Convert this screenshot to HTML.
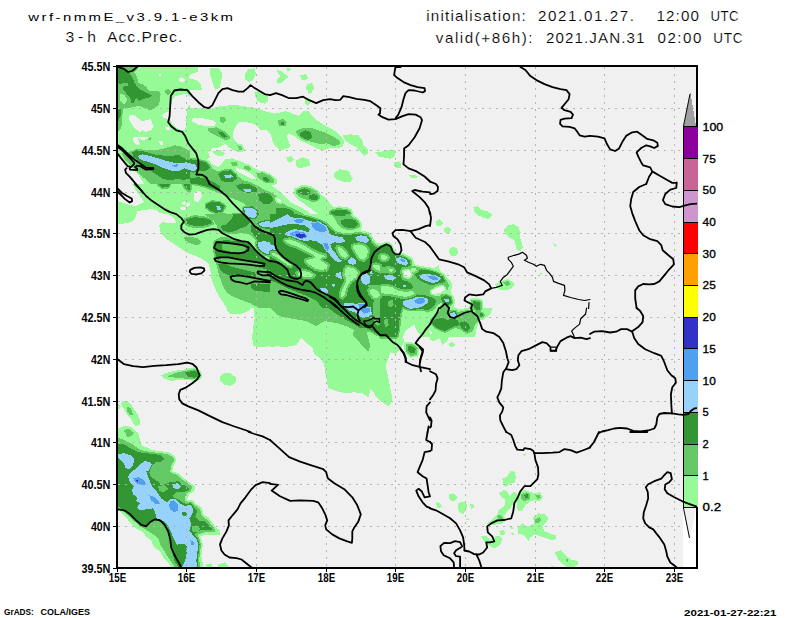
<!DOCTYPE html><html><head><meta charset="utf-8"><title>wrf-nmmE 3-h Acc.Prec.</title>
<style>html,body{margin:0;padding:0;background:#fff}svg{display:block;opacity:0.999}text{font-family:"Liberation Sans",sans-serif;fill:#000}</style></head><body>
<svg width="800" height="618" viewBox="0 0 800 618">
<rect width="800" height="618" fill="#fff"/>
<defs><clipPath id="c"><rect x="117" y="66" width="580" height="502"/></clipPath></defs>
<g clip-path="url(#c)" shape-rendering="crispEdges">
<rect x="117" y="66" width="580" height="502" fill="#f0f0f0"/>
<path fill="#96fa96" fill-rule="evenodd" d="M244.5,74.1L244.9,79.1L248.6,82.1L253,80.1L256.2,74.1L254.6,68.4L248.6,69ZM210.4,68L210.4,76.1L215.3,89.8L219.4,88.1L221.4,80.1L222.4,73L218.4,68ZM260.6,347.2L270,346.2L270,347.2L278,346.1L284.1,347.2L296.1,345.1L301.1,338.1L305.1,342.1L312.2,347.2L314.2,354.2L320.2,358.2L324.2,364.2L325.2,372.3L328.2,388.3L344.3,393.3L354.3,392.3L362.4,393.3L368.4,397.4L370.4,389.3L373.4,392.3L376.4,397.4L382.4,402.4L388.5,406.4L391.5,402.4L391.5,394.4L387.5,374.3L385.5,366.2L390.5,352.2L395.5,354.2L400.5,349.2L404.5,341.1L402.9,337L403.3,337L405,331.2L411.2,326.2L414.4,325L416.2,330L420,335L421,337L430,337L430,340.1L434,341.1L440,338.1L442.1,345.1L447.1,341.1L449.1,337L475.1,337L476.2,330L478.8,322.5L480,320L480,320.5L481.1,319.9L484,319.7L485.2,318.2L487.2,317L491.2,313L492.2,308L483.3,308L483.3,301.9L482.8,300.2L481.9,299.2L480.3,298.6L472.8,298L470.8,298.5L469.7,299.7L469.2,301.7L469.8,305.5L467.5,308.1L457.9,309.3L455.7,307.9L453.8,306.2L453.6,305.3L454.5,304.2L455.1,301.7L453.8,296.7L452.8,295.1L450.5,293.6L452.5,285L450,280L446.9,277.7L445.2,274.4L439.9,270.7L438.8,265L434.1,268.5L430.6,267.4L422.1,266.2L413.8,264.1L413.3,259.6L412.6,258L411.6,257.2L410,256.7L405,253.9L401.5,252.9L398.8,253L396.2,252.3L394.9,251L393.9,247.2L390.9,243.2L389.5,242.4L385.6,242L380.6,243.6L376.4,242.2L373.9,239.7L373.1,237.5L369.4,232.8L367.5,231.8L361.4,230.7L360.4,230.2L362.4,226.2L361.3,222.8L360,220.5L358,218.2L354.3,216.1L353.2,214.4L353.1,211.6L351.7,209.6L347.4,207.3L339,206.2L333.5,207.4L330.6,204.5L326.6,198.4L321.6,195.1L317.4,189.8L311.4,186.4L304.9,185.2L301.6,185.4L294.4,188.4L293.4,193.4L296.4,198.4L318.4,214L310.4,214L306.5,210.5L290.4,202.4L278.4,190.4L271.1,185L273.2,185.2L274.4,184.8L274.7,184.4L276.4,184.4L277.4,179.4L270,173.7L263,170.7L260.3,170.8L256.3,169.3L251.8,167.1L251.3,166.1L249.6,164.7L248.1,164.1L246.2,164.3L240.2,161.3L232.2,158.3L225.1,159.3L222.1,163.3L218.1,167.3L212.1,164.3L208.6,160.2L206.6,159L210.1,157.3L208.1,152.2L212.1,148.2L220.1,147.2L224.1,144.2L220.1,141.8L226.1,144.6L230.2,148.2L235.2,151.2L241.2,152.2L246.2,150.2L244.2,148.9L242.9,145.6L241.6,144.5L237.5,143.5L235.2,141.2L232.6,136.2L233.8,130.2L236.2,125.1L240.2,121.7L246.2,122.1L253.2,123.7L257.3,126.1L260.3,130.2L266.3,129.8L270.3,133.2L272.3,140.2L275.3,146.2L279.4,150.2L286.4,149.2L290.4,146.2L286.4,135.2L289.4,133.8L294.4,136.2L299.4,140.2L306.5,143.2L318.5,149.2L324.5,150.2L330.6,147.8L338.6,148.6L342.6,146.2L344.6,141.2L341.6,137.2L336.6,132.2L330.6,128.2L322.5,124.1L316.5,120.1L311.5,115.1L308.5,110.5L302.4,111.7L298.4,115.7L292.4,113.7L286.4,111.1L274.3,113.7L266.3,111.7L259.3,109.1L254.3,107.7L236.2,105.1L224.1,105.7L216.1,107.1L210.1,109.1L190,107.7L190,103.7L187.3,108.2L187.3,114.2L185.3,120.2L186.3,126.3L184.3,130.3L179.3,129.3L174.3,126.3L170.2,120.2L170.2,113.2L170.2,112.2L172.2,100.2L175.3,96.1L179.3,95.1L186.3,94.1L190,96.9L190,90L202.3,90L200.4,84.1L196.3,80.1L188.3,78.1L190.3,74.1L198.3,72L198.3,67L170,67L170,60L110,60L110,137L118,137L118,156.4L124.1,160.4L136.1,172.4L140.1,177.5L144.1,184L132.1,184L135.1,189L144.1,202.1L136.1,206.1L130.1,205.1L118,201.1L118,224.2L126.1,223.2L133.1,221.2L136.1,216.1L137.1,211.1L150.2,209.1L156.2,210.1L160.2,213.1L168.2,214.1L174.3,218.1L176.3,223.2L170.2,223.2L162.2,222.2L159.2,225.2L160.2,231.2L163.2,236.2L168.2,240.2L186.3,252.3L194.3,255.3L202.4,259.3L208.4,263.3L210.4,270.4L211.4,278.4L213.4,284.4L216.4,291.4L226.5,308L227.5,311L230.5,314L240.5,314L248.6,311L250.6,308L253.6,308L254.6,318L253,328.1L252.2,338.1L253.6,346.1ZM170,111.2L170,120L166.9,118.8L163.8,118.1L161.9,115L166.2,112.5ZM181.3,77.1L185.3,79.1L184.3,82.1L180.3,82.5L178.3,79.1ZM190,116.8L190,121.1L189.3,120.2ZM133.1,140.3L133.6,137L148.5,137L146.1,139.3L142.1,140.3L138.1,138.3L140.1,144.3L136.1,145.3ZM160.2,145.3L159.2,141.3L162.2,140.3L163.2,144.3ZM190,202.2L190,206.1L186.3,207.1L186.3,204.1ZM183.3,205.1L181.3,202.1L185.3,201.1L186.3,204.1ZM180.3,207.1L184.3,206.5L186.3,209.1L183.3,210.5L180.7,209.7ZM193,118.1L202.1,118.1L212.1,120.1L216.5,123.1L214.1,126.5L206.1,126.1L198,124.5L191.6,121.1ZM236.2,170.3L236.2,167.3L244.2,170.3L252.2,174.3L256.3,179.4L250.2,178.3L242.2,174.3ZM202.1,196.4L198,202.4L194,200.4L194,192.4L200,190.4ZM276.4,198.4L280.4,199.4L281.4,202.4L277.4,201.4ZM159,76L159,74L161,74L161,76ZM140,131.9L136.9,130L133.8,127.5L130.6,122.5L128.8,118.1L130,115L135,115.6L138.8,118.8L142.5,121.2L147.5,120L150.6,118.8L151.9,122.5L153.8,126.2L151.2,130L146.2,131.9L142.5,130ZM166.9,130.6L165,127.5L168.8,126.2L170,130ZM411.2,273.8L409.4,277.5L405,276.9L403.8,271.2L408.8,270ZM441.2,292.5L435,294L431.9,293.5L431.2,291.2L436.2,288.1L442.5,286.2L445,289.4ZM429.4,331.2L431.2,330.6L431.9,333.8L430,334.4ZM405.3,342.4L404.1,343L403.8,344.4L404.2,350.2L405.3,353.5L409.4,357.1L410.7,357.6L416.8,357L417.8,356.5L418.4,355.4L419.4,348.4L418.9,346.9L414.7,343L408.8,341.9ZM415.6,343.1L417.1,341.3L414.8,343ZM215.4,90L215.3,89.8L214.7,90ZM291.1,70L290.1,67.6L286.1,68L288.1,71.7ZM281,83.1L284.1,80.1L288.1,77.1L285.1,74.1L281,71L277,70L278,73L280,76.1L277,79.1L277.6,83.7ZM300.1,75.1L301.1,79.1L305.1,80.5L308.1,78.1L306.1,74.1ZM312.5,90L313.6,90L314.2,87.1L312.2,83.1L307.1,84.1L306.1,87.1L306.1,90L307.5,90L308.5,93.6L311.5,93ZM350.3,134.3L342.6,135.2L345.6,141.2L350,144.2L356.4,147.3L360.4,152.4L364.4,156L368,153.4L367.4,148.3L363.4,145.3L362.4,140.3L358.4,135.3ZM390.5,158.8L394.5,156.4L395.5,150.4L390.5,149.4L382.4,151.4L374.4,152.4L378.4,156.4ZM398.5,161.4L394.5,162.4L394.1,165.4L396.5,168.4L400.5,168.4L401.5,164.4ZM333.6,176.3L336.6,179.4L342.6,181.4L350,182.5L350.3,182.5L352.7,178.5L350,174.3L350,172.3L346.6,170.3L339.6,169.3L334.6,172.3ZM408.6,175.5L410.6,177.5L415.6,178.5L418.2,176.5L414.6,174.5ZM443.1,222.2L440,219.1L436,221.2L436,224.2L438,226.2L442.1,225.2ZM451.1,229.2L448.1,226.6L444.1,228.2L444.1,231.2L446.1,233.2L450.1,232.6ZM449.1,249.3L449.1,252.3L451.1,255.9L455.1,256.3L458.5,253.3L457.1,248.3L453.1,246.7ZM477.2,206.1L473.2,207.1L474.2,211.1L477.2,215.1L487.2,219.1L491.2,217.7L491.9,214.1L487.2,211.1L481.2,210.1ZM508.3,225.2L504.3,229.2L504.3,232.2L506.3,235.2L510.3,238.2L514.3,240.2L516.8,250.3L520.4,251.3L522.8,247.2L521.4,241.2L519.4,237.2L520.8,232.2L518.4,227.2L513.3,224.2ZM552.9,243.2L554.5,246.2L556.9,246.7L555.5,243.8ZM542.5,273L539.4,273.4L542,274.8ZM500.3,290.4L506.3,290.4L511.3,288.4L514.7,284.4L512.3,281.4L510.2,280.7L509,279.3L506.3,279.4L500.3,281.4L495.3,284.4L496.3,287.4ZM182.7,380.2L190.2,380.3L194.1,381.1L199.9,379.4L201.2,378.4L202,376.4L201.4,372.1L200.2,370.5L196.1,367.9L193.8,367.4L184.7,369L183.6,369.6L178.3,370.2L168.2,372.3L161.2,375.3L163.2,378.3L170.2,380.7ZM224.5,384.7L230.5,386.3L235.5,382.3L235.5,377.3L230.5,373.3L224.5,372.7L220.4,376.3L220,380.7ZM119,409.4L121,406.4L118,403.4L118,408.4ZM140.1,420.4L137.1,413.4L133.1,407.4L128.1,401.4L122,400.8L121,404.4L125.3,410.7L125.6,412.5L128.6,416.5L130.1,417.4L135.1,426.5L140.1,424.5ZM174,569L179.9,572.1L181.5,572.6L197.2,572.6L200.1,571.4L201.3,569.9L201.9,568L203.2,568L202.4,560.5L201.4,556.5L202.9,543.8L200.4,536.4L206.4,534.4L214.4,535.4L220.4,534.8L220.4,530.4L216.4,528.4L212.4,522.4L208.4,517.3L203.4,514.3L202.4,509.3L198.3,505.3L195.4,503.8L194.1,501.7L192.3,500.2L190.6,499.8L188.2,500.2L186.7,499.5L189.3,494.2L194.3,491.2L195.3,486.2L184.4,478.7L178.3,473.2L172.3,471.1L173.2,466.1L176.3,461.1L175,456.7L174.1,455.5L168.2,452.1L152.2,450.1L146.1,447.1L142.1,446.1L140.1,440L138.1,432L136,432L135.2,430.6L134.6,430.4L132.1,427.5L126.1,425.5L118,428.5L118,436.4L117,436.6L116.2,438L116.2,441.4L115.3,442.3L114.7,444.1L114.7,451L113.5,453.3L113.4,458.1L114.7,461.2L114.9,507.1L116.1,508.9L121.4,512.7L124.1,515.3L130.1,522.4L136.1,528.4L142.1,531.4L146.1,536.4L151.2,540.4L153.2,545.5L156.2,548.5L161.2,552.5L162.2,556.1L168.2,562.5L171.6,568L173.3,568ZM449.1,343.1L449.1,346.1L452.1,347.2L455.1,345.1L453.1,342.1ZM218.4,567.9L227.5,567.9L228.5,565.3L224.5,562.3L218.4,564.3ZM206.4,564.3L206.4,567.9L212,567.9L211.4,563.3ZM453.1,493.2L449.1,494.2L449.1,498.3L452.1,501.3L456.1,500.3L457.1,496.3ZM442.1,507.3L440,503.3L436,501.3L437,507.9ZM474.2,507.3L473.2,503.3L470.2,504.3L471.2,508.7ZM466.1,510.3L467.1,504.3L463.1,501.3L458.1,503.3L457.7,507.3L459.1,512.3L463.1,514.3ZM465.1,518.8L468.1,520.8L469.2,518.4ZM505.3,532.4L503.3,529.4L499.3,531.4L500.3,535.4L503.3,535.4ZM502.3,539.4L499.3,535.4L495.3,536.4L493.2,541.4L485.2,535.4L481.2,536.4L484.2,541.4L493.2,548.5L496.3,547.5L500.3,544.5ZM526.4,454.1L522.4,453.7L524.4,455.7ZM502.3,479.2L503.3,483.2L505.3,487.2L509.3,484.2L514.3,482.2L516.4,477.2L514.3,471.2L510.3,471.2L507.3,476.2ZM522.4,510.3L525.4,505.3L530.4,501.3L535.4,500.3L536,500.3L536.8,501L538.1,500.9L540.4,500.3L541.5,499.5L542.5,498.5L542.4,497L542.9,496.3L540.3,493.1L539.4,492.2L534.4,493.2L529.7,492L527.5,490.8L524.4,490.2L518.4,492.2L516.4,506.3L518.4,511.3ZM513.3,492.2L509.3,496.3L507.3,491.2L503.3,490.2L499.3,493.2L501.3,497.3L505.3,499.3L504.3,506.3L499.3,509.3L497.4,514.1L496.3,514.8L495.6,516L492.2,519.4L487.2,523.4L490.2,525.4L502.3,523.4L506.3,520.4L503.7,515.9L507.3,511.3L510.3,508.3L516.4,498.3L517.4,493.2ZM544.5,531.4L542.5,526.4L546.5,522.4L548.5,518.4L544.5,514.3L538.4,513.3L533.4,517.3L533.6,522.4L534.1,523.5L530.4,525.4L526.4,526.4L522.4,523.4L518.4,526.4L517.4,533.4L521.4,534.4L525.4,536.4L528.4,541.4L530.4,537.4L534.4,534.4L552.5,540.4L556.5,538.4L555.5,535.4ZM512.9,529.4L512.3,526L509.3,526.4L510.3,528.4ZM511.3,533.4L513.3,535.4L513.9,533.4ZM566.5,566.7L574.6,566.7L578.2,564.3L577.6,561.3L570.6,559.3L570.1,558.4L568.3,557.4L564.5,554.2L560.5,550.2L554.5,552.2L557.5,558.3L561.5,563.3ZM550.5,567.9L554.1,567.9L554.5,565.9L550.5,566.7ZM267.3,95L260.3,91L254.3,92L255.3,97L258.3,102L264.3,103.7L268.3,101ZM222.1,156.3L225.1,153.2L220.1,150.2L212.1,151.2L216.1,155.3ZM294,159.3L291.4,156.3L286.4,157.3L287.4,161.3L291.4,162.3ZM310.5,103L308.5,98L304.5,99L304.9,103L307.5,106.1ZM308.5,159.3L302.4,157.3L296.4,160.3L295.4,165.3L298.4,168.3L304.5,167.3L310.5,165.3Z"/>
<path fill="#64c864" fill-rule="evenodd" d="M165,90L165,92.5L166.9,94.8L170,94.4L170,93.1L171.2,92.1L170,90.1L168.8,89ZM151.2,139.3L150.6,137L150.1,137L149.6,138.1L148,139.7L148.2,140.3ZM124.1,158.4L150.1,184L156.2,184L158.2,186.4L161.2,188.7L162.4,189.1L168.4,188.5L170.2,187L171.7,184L182.3,184L182.7,187.6L187.3,191.6L190,192.1L190,191.7L191,191.4L191.5,190.3L191.5,185.1L197.8,185.9L204.8,187.6L210.1,190L220.1,193.4L240.2,201.4L246.5,205.4L243.3,205.9L241.7,207.4L241.5,209L242.1,212.5L233,212.5L231.8,213.1L231.6,214L225.9,214L225.5,212.8L223.1,212.5L226.4,207.2L226.6,206.2L226.1,205.3L220.3,201L211.4,200.1L205.4,203.1L204.7,203.8L204.6,204.7L205,207.7L205.5,208.6L209.5,211.9L214.8,214L204.6,214L206.4,216.1L210.2,218.3L204.4,216.1L194.3,215.1L184.3,218.1L184.3,224.2L189.3,227.2L198.3,228.2L207.4,227.2L214.4,224.2L212.6,219.7L213.4,220.1L216.4,225.2L218.4,230.2L224.5,233.2L232.5,234.2L240.5,233.2L248.6,234.2L253.9,237.8L255.8,240.2L254.9,241.7L254.8,245.2L256.2,248.8L248.8,241.8L236.2,239.5L230.5,237.8L222.4,236.6L214.4,240.2L212.8,244.2L212.9,248.6L213.4,252.3L219.4,276.4L222.4,284.4L226.5,292.4L232.5,296.4L250.6,303.5L258.4,308L270,308L276,314L282.1,317L306.1,321.1L316.2,326.1L324.2,321.1L336.3,323.1L346.3,326.1L354.3,330.1L352.3,335.1L358.4,341.1L364.4,348.2L368.4,351.2L370.4,346.1L368.4,338.1L366.4,332.1L369.8,331.5L375.6,335.3L378.5,336.4L378.9,338.1L380,338.5L397,338.5L397.9,338.2L398.5,337.4L400.2,330.4L400.9,321.4L402.1,312.8L403.3,309.1L409.3,311.5L422.4,310.9L423.8,311L427.5,312.5L433.8,310L437.5,305L441.7,302.9L442.6,304.1L444.1,304.9L435,316.2L430,318.8L430.5,321.2L429.8,322.3L431.2,325L434.3,328.2L439.3,330.7L444.5,332.7L445.7,332.6L455.5,327.7L461.2,330L462.5,331.4L467.5,333.8L472.5,331.2L475,325L477.1,322.4L478.6,319.3L480,318.5L480,317.8L481.6,318.2L483.2,318L485.3,315L485.2,314L480.6,311.2L481.5,310L481.5,301.9L481.1,300.9L480.1,300.4L472.6,299.8L471.4,300.2L471,301.5L471.8,306.3L473.7,310.1L475.6,311L472.5,312.5L467.5,310L457.6,312L456.4,310.3L455,309.5L450.2,310.4L449.4,310L448.3,306.4L449.7,306.2L452.8,303.7L453.3,302.1L452.1,297.1L451.4,296.2L447,293.7L445.6,293.7L444.4,294.2L442.5,293.8L438.8,296.2L431.6,295.1L430.3,293.9L429.7,291.7L429.8,290.7L430.4,289.9L435,286.9L442,284.7L443,284.7L443.8,285.3L447.5,290L449.4,285L443.3,275L438,271.7L430.5,269.2L421.7,267.9L412.5,265.6L412.1,265L411.5,259.8L411,258.9L409.2,258.5L407,256.9L401.8,254.8L400.5,254.5L398.7,254.8L395.3,253.9L393.2,251.9L392.5,248.3L389.5,244.2L384.8,243.9L378.4,246.2L373,242L372.1,240.9L372.1,239.9L371.6,238.5L368.6,234.5L366.9,233.4L358,231.7L349.1,233.5L339.4,232.3L335.1,230.9L327.6,223.2L320.1,218.9L317.3,218.4L312.5,216.7L301.8,214L304.3,214L286.4,205.5L282.8,203.1L282.1,203.9L281,204L277,203L275.8,202L274.8,198.9L274.9,197.8L275.6,197L277,197L276.4,196L270.3,192L264.3,190L258.3,186L250.2,182L242.2,180L237.8,175.9L236.5,173.3L235.1,172.3L233.8,170.7L230.9,169L230,168.8L221.9,169.8L219.9,171.1L216.1,170.7L211.3,168L211.6,167.4L211.3,166.4L207.2,161.4L206.4,160.8L198.2,158.8L190,157.8L190,149.8L186.3,149.4L180.3,146.3L174.3,145.3L168.2,147.3L160.2,149.4L150.2,150.4L136.3,148.9L130.1,151.4L122,153.4ZM268.5,256.8L268.5,259.3L264.1,256L268.2,256.8ZM387,259.4L382.9,260L380.5,258.2L380.5,255.8L384.1,254.6L387.9,257.1ZM375.6,269.5L373.3,267.3L372.9,265.7L376.4,264.5L380,265.7L380,271ZM374,288.7L378.7,291.8L380,295.9L377.7,298.2L373.5,297.5L370.3,293.4L369.1,289.9ZM352.8,245.8L358.4,244.4L365.1,246.1L368.1,250.7L366.5,257.2L363.8,259.9L359.7,258.5L353.3,248.5ZM346.6,287.3L344.4,295.4L342.3,297.5L340.6,295.8L342.3,289.2L346.2,281.3L346.3,279.7L344.4,274.2L345.3,269.2L347.2,266.7L353.3,268.2L358,272.9L356.6,277L350.6,281.2ZM339.2,252.3L337.5,248.1L337.8,246.9L341.3,248.1L345.6,251.6L347.8,255.9L345.7,257.9L341.7,256.6ZM311.2,250.1L319.3,254.1L325.2,255.7L324.7,256.6L321.7,257.6L320.5,258.7L320.4,260.4L321.6,261.5L323.2,262.2L327.7,265.2L326.6,268.7L322.1,270.2L315,268.4L309.5,264.7L306.2,261.4L306.2,260L313.2,258.6L314.5,257.7L314.8,256L313.7,254.7L299.1,247.4L290.9,244.3L285.7,241.7L285,240L289.8,239.4L297.3,242.1L305.1,246.1ZM302.4,270.6L309.3,272.3L313.5,275.1L312.8,276.4L306.3,277.2L299.3,275.5L297.4,273.1ZM272.1,255L272.1,252.7L275.2,253.3L280.8,257L286.7,261.9L291.4,265L291,265.8L287,264.4L275.2,256.6ZM415.8,267.5L416.8,270.4L413.7,273L412.2,272.3L412.7,274.5L410.1,278.9L409.2,279.1L403.9,278.1L402.2,271.6L402.4,270.4L403.4,269.7L409.3,268.5L411.6,271.4L410.8,268ZM392.6,294.4L385.1,293.8L380.6,292.7L380.6,286.7L385,285.6L392.3,287.4L398.6,290.6L405.1,291.8L412.3,291.2L415.2,293.6L411.1,295.7L405,296.9ZM393,269.2L392.1,271.8L389.2,271.4L388.3,268.3ZM336.3,222.2L339.3,226.2L344.3,229.2L350.3,230.2L356.4,229.2L360.4,226.2L359.6,223.3L358.4,221.2L356.5,219.2L354.1,218.3L352.3,217.1L351.1,215L351.5,214L351.5,212.5L350.8,211.2L346.8,209L338.2,208L330.2,210L329.4,210.6L329.1,214L329.5,215.1L331.8,215.5L332.8,216.6L334.3,217.1ZM503.3,282.4L506.3,286.4L510.3,284.4L508.3,281ZM167.2,376.3L176.3,377.9L186.3,378.7L190.4,378.5L194,379.3L199.3,377.7L200,377L200.2,376.1L199.8,373.1L199.2,372L195.2,369.4L194.1,369.2L176.3,372.7ZM133.1,414.4L131.1,408.4L127.1,406.4L127.1,411.4L130.1,415.4ZM132.1,436L134.1,432L132.5,432L132.1,430.9L128.1,428.5L124.1,430.5L124.1,432L125.1,432L127.1,437ZM416.6,355.2L417.6,348.2L414.1,344.7L409.5,343.6L405.5,344.1L406.6,352.2L410.6,355.8ZM204.4,532.4L210.4,532.4L215.4,531.4L214.4,528.4L210.4,523.4L206.4,519.4L201.4,515.3L200.4,510.3L196.3,506.3L194.1,505.2L192.7,502.9L191.7,501.9L189.8,501.6L188.1,502.2L184.3,500.3L186.3,493.2L189.8,491.7L190.7,490.9L192.3,487.2L189.3,484.2L183.3,480.2L177.3,475.2L170.2,472.2L171.2,465.1L174.3,461.1L173.2,457.1L167.2,454.1L145.1,451.1L139.1,449.1L132.1,444.1L124.1,440L118,438L118,442.6L117,443L116.5,444.1L116.5,451.8L115.6,452.7L115.2,454.1L115.2,458.1L116.5,460.5L116.5,506.3L117.1,507.5L121.2,510.5L126.1,513.3L133.1,520.4L140.1,526.4L147.2,530.4L153.2,534.4L158.2,538.4L160.2,544.5L170.2,560.5L175.5,568L176.9,568L177.3,568.8L178.6,569.5L179.5,569.5L181.3,570.7L197.2,570.8L198.8,570.2L199.6,569.3L200.2,568L199.2,559.8L201.1,544.5L199,537.5L197.9,536L198.3,534.4ZM529.4,499.3L530.2,497.9L530.4,495.2L528,492.9L527.2,492.8L526.4,492.2L521.4,494.2L521.4,499.3L524.4,501.3ZM539.4,494.6L535.4,495.2L537.4,499.3L540.8,497.9ZM500.3,514.3L497.3,516.3L498.3,519.4L503.3,518.4ZM535.4,519.4L535.4,522.4L538.4,523.4L541.5,520.4L539.4,517.3ZM568.5,559.3L564.9,558.7L567.5,561.9ZM198.3,238.6L191.3,236.6L184.3,237.2L184.7,239.8L187.3,242.2L192.3,244.2L198.3,245.2L201.4,242.2ZM223.1,123.1L226.1,120.1L224.1,116.5L220.1,117.1L219.7,121.1ZM278.4,120.1L277.9,123.7L280.4,126.5L285.4,126.1L286.8,122.1L283.4,119.1ZM219.1,137.2L225.1,139.8L230.2,139.2L229.2,135.2L223.1,130.2L216.1,127.2L214,128.1L208.1,128.2L208.1,131.2ZM310.5,127.8L302.4,128.2L295.4,131.2L297.4,135.2L299,136.1L299.5,137L302.9,139.6L307.9,141.6L309.2,141.4L320.5,144.2L326.6,143.2L332.6,145.8L339,145.2L340.2,141.2L334.6,137.2L326.6,133.2L318.5,130.2ZM239.2,149.8L242.6,149.8L241.2,146.2L237.2,145.2ZM235.1,166.3L238.2,164.7L236.2,161.9L231.2,162.3L231.8,165.3ZM251.2,169.3L250.1,167.5L248.2,165.9L243.8,166.3L244.3,168.7L248.9,170.9ZM257.3,176.8L262.6,181.3L266.6,183.3L268.7,182.9L273.3,183.4L274.3,179.4L269.3,175.3L262.3,172.3L256.3,173.3ZM300.4,197.4L311.5,201.5L316.5,201.5L318.5,200.4L320.1,197.7L320.4,196.6L316.5,191.4L310.5,188L304.9,187L302.4,187L298,189L296,190.4L296.4,194.4ZM122,116L122.7,113.5L122.5,109.4L125,108.1L131.2,107.5L140,105.6L143.8,108.1L151.2,110.6L153.8,108.1L158.1,105.6L160,101.2L160.6,93.8L158.8,90.6L153.8,91.2L148.8,90.6L146.2,86.9L142.5,84.4L138.1,82.5L136.9,76.2L134.4,72.5L136.9,70L135,66.9L125.3,66.9L123.9,66L115.1,65.4L114,65.8L113.5,66.9L113.5,82.5L113.9,83.6L115,84L115,107.3L114,107.6L113.5,108.8L113.5,122.5L113.9,123.6L115,124L115,131.2L117.8,131.2L120,130L121.9,125L122.5,120ZM123.8,104L121.1,102.1L119.6,98L119.9,94.7L121.9,93.5L124.6,95.4L126.9,98.9L126.3,102.7Z"/>
<path fill="#329632" fill-rule="evenodd" d="M144.1,166.4L162.2,178.5L170.2,180.5L178.3,178.5L184.3,180.5L190,178.6L190,183.4L198,184.4L206.1,186.4L214.1,189.4L220.1,190.4L220.1,186.4L214.1,182.4L206.1,178.3L198,177.3L190,178.3L190,171.7L193.7,172.6L194.9,172.2L196.7,170.4L202.1,171.3L207.1,170.3L210.1,167.3L206.1,162.3L198,160.3L190,159.3L190,160.3L184.3,158.4L178.3,154.4L170.2,156.4L154.2,154.4L144.1,151.4L136.1,150.4L132.1,152.4L133.1,156.4L138.1,160.4ZM354.3,324.1L360.4,328.1L366.4,328.1L370.4,330.1L376.4,334.1L380,335.3L380,337L397,337L398.8,330L399.4,321.2L400.6,312.5L402.5,306.9L403.5,307.1L404.5,308.1L410.1,310L417.8,309.4L422.5,309.4L428.8,310L433.8,306.2L436.2,301.2L432.5,297.5L426.2,295.6L417.5,294.4L416.1,295.6L412,297.6L405.4,299L401.9,298.5L401.2,298.8L392.3,296.6L384.4,295.9L382.1,296.1L381.6,297.5L379.9,299.1L380,324.4L377.5,326.2L373.8,321.2L372.5,310L373.8,300L374.4,299.9L373.2,299.7L371.8,298.9L368.2,294.1L367,290.6L367.2,288.8L368.7,287.7L367.5,285L379.4,285L384.5,283.5L385.5,283.5L392.8,285.3L397.8,287.8L401.2,288.9L405.1,289.6L411.1,289.1L413.1,287.5L411.2,283.8L407.7,281.1L403.8,280.5L402,279.2L401.3,277.7L400,271.2L400.2,270L401.1,268.6L402.5,267.5L409,266.3L410.6,265L410,260L408.3,260L407.6,258.9L406.4,258.2L401.1,256.1L398.7,256.3L394.5,255.3L391.5,252.3L389.5,246.2L385.5,245.2L379.4,248.3L374.4,246.2L370.3,241.1L370.7,240.3L370.4,239.4L367.4,235.4L366.6,234.9L360.3,233.9L358.4,233.2L348.3,235.2L340.3,234.2L334.3,232.2L327.6,225.8L326.7,224.4L319.3,220.2L317.1,220L312.2,218.1L295.8,214L294.4,214L292.4,210.5L284.4,207.5L276.4,208.5L276.4,214L270,214L270,219.8L266.3,219.9L258.3,221.9L257.4,222.7L257.5,223.9L259.5,226.9L260.3,227.4L264.6,228.5L268.8,228.5L269.2,229.2L270,229.4L270,233.2L264.6,231.2L258.6,227.2L250.6,224.2L250.6,230.2L254.6,236.2L258.3,240.8L256.6,241.4L256.3,245.2L258.8,250.3L263.8,254.3L268.5,255.3L269.5,255L269.9,252.7L270.7,251.1L272.5,250.6L276.5,251.4L282,255.1L288.1,260.2L292.6,263.2L293.5,264.5L293.4,266L291.9,267.8L290.3,267.9L285.8,266.3L274,258.4L271.1,257L270,255.2L270,262.3L260.6,255.3L248.6,243.2L238.5,241.2L226.5,240.2L216.4,241.2L215,243.8L214.4,248.3L215.4,253.3L217.4,259.3L220.9,260.7L218.4,258.7L228.5,257.9L254.6,262.7L262.6,264.7L258.6,265.9L246.6,264.3L270,270.3L270,280.4L278,283.4L288.1,288.4L308.1,296.4L316.2,300.5L322.1,308L328.2,308L336.3,314L346.3,320.1ZM230.5,243.2L240.5,244.6L246.6,247.2L244.5,251.3L236.5,252.3L228.5,251.3L222.4,249.3L222.4,244.2ZM391.7,274L383.8,272.5L380,273.8L380,273L379.3,273.1L374.9,271.6L371.7,268.8L371.2,267.8L370.8,266.2L371,264.6L372.2,263.6L375.7,262.4L377.1,262.4L380.7,263.6L381.8,264.4L382.2,267.1L388.8,266.1L393.4,267L394.9,268.1L395.1,269.9L394.7,271.1L395,272.5L394,272.8L393.2,273.7ZM392.5,300L393.8,305L390,307.5L387.5,305.6L387.5,301.2ZM383.8,320L387.5,318.8L388.8,325L385,327.5ZM387.3,261.6L382.9,262.2L381.6,261.8L379.2,260L378.3,258.2L378.3,255.8L378.7,254.5L379.8,253.7L383.5,252.5L385.4,252.8L389.1,255.3L390,256.4L389.9,257.9L389,260.2ZM351.2,248.9L350.6,246.2L350.9,244.6L352.2,243.7L358.9,242.3L365.6,243.9L366.9,244.9L370,249.4L370.3,251.2L368.6,257.8L365.4,261.5L363.1,262L359,260.6L357.9,259.8ZM352.3,282.6L348.5,288.3L346.5,295.9L346,296.9L343.8,299.1L342.3,299.7L340.7,299.1L339,297.4L338.5,295.3L340.3,288.2L344,280.7L342.3,273.8L343.1,268.8L345.4,265.4L347.7,264.6L353.8,266.1L354.8,266.7L359.5,271.4L360,273.6L358.7,277.7L357.8,278.9ZM339.8,257.7L337.3,253.5L335.4,248.9L335.6,246.4L336.7,245L338.5,244.9L342.6,246.4L347,249.9L349.7,254.9L349.9,256.2L349.3,257.4L347.3,259.5L345,260L341,258.6ZM312.2,248.1L320.1,252.1L325.7,253.5L327.2,254.8L327.1,256.7L326.7,257.6L325.4,258.7L322.8,259.6L329,263.3L329.8,264.5L329.8,265.9L328.7,269.4L327.3,270.8L322.8,272.3L321.6,272.3L314.5,270.5L308.3,266.5L304.7,263L304,261.4L304.5,258.6L305.8,257.9L312.3,256.5L298.1,249.4L290.1,246.4L284.7,243.7L283.7,242.5L283,240.8L283.1,238.8L284.7,237.8L290.6,237.3L298.3,240.2L306.1,244.1ZM296.4,271.1L301.4,268.6L302.9,268.4L309.8,270.2L314.7,273.3L315.6,274.5L315.4,276.1L314.8,277.4L313.1,278.6L306.5,279.4L298.8,277.6L297.6,276.9L295.6,274.4L295.2,272.6ZM338.6,209.5L330.6,211.5L330.6,214L332.9,214L333.2,215.1L338.3,216.5L344.3,216.1L346.4,214L350,214L350,212.5L346.6,210.5ZM348.3,228.2L354.3,227.8L358.4,224.2L355.3,220.1L348.3,218.5L341.3,220.1L340.7,223.2L343.3,226.2ZM194.3,377.9L198.8,376.3L198.3,373.3L194.3,370.6L185.3,372.3L187.3,376.3ZM410.6,353.2L414.6,353.2L415.6,349.2L413.1,346.7L409.1,345.8L407.6,346.1L407.6,350.2ZM480,316.3L481.6,316.7L483.8,315L480,312.5ZM186.6,504.4L172.2,496.3L176.3,492.2L183.3,492.2L189.3,490.2L188.3,487.2L182.3,484.2L178.3,481.2L170.2,482.2L162.2,485.2L157.2,481.2L151.2,477.2L149.2,472.2L150.1,471.2L150.4,470.6L150.2,470.1L153.2,464.1L154.4,463.9L155.2,462.1L160.2,462.1L164.2,459.1L161.2,455.1L138.1,452.1L123,444.1L118,444.1L118,452.8L117,453.3L116.7,454.1L116.7,458.1L118,459.7L118,506.3L122,509.3L128.1,512.3L134.1,518.4L140.1,523.4L146.1,526.4L150.2,522.4L155.2,520L161.2,522.4L166.2,528.4L169.2,536.4L171.2,547.5L174.3,560.5L178.6,568L180.6,568L181,569L181.8,569.3L197.2,569.3L198.2,568.9L198.5,567.9L197.7,560.5L199.6,544.7L197.6,538L195.1,535.3L195.3,533.4L200.4,530L206.4,530.4L212.4,529.4L209.4,525.4L204.4,521.4L198.3,520.4L195.3,516.3L197.3,511.3L194.1,508.1L191.4,503.6L190.7,503.1L189.8,503.1ZM168.2,489.2L164.2,492.2L159.2,491.2L158.2,486.2L164.2,485.2ZM200.4,529.4L196.3,532.4L192.3,531.4L192.3,526.4L198.3,525.4ZM525.4,498.3L528.8,497.3L527.4,494.2L524.4,495.2ZM168.2,187L170.2,184L158.2,184L162.2,187.6ZM190,190.3L190,184L184.3,184L184.7,187L188.3,190ZM218.1,214L224.5,214.1L224.5,214ZM210.4,220.1L204.4,218.1L194.3,217.1L186.3,219.1L186.3,223.2L190.3,225.2L198.3,226.2L206.4,225.2L212.4,223.2ZM233.5,216.1L230.5,220.1L226.5,224.2L220.4,226.2L222.4,230.2L228.5,232.2L234.5,231.2L240.5,228.2L246.6,226.2L250.6,221.2L248.4,218.4L254.4,219.4L255.6,218.9L258.6,214.9L258.7,213.5L258.1,213L258.5,211.1L253.1,206.5L252.1,206.2L244.1,207.2L243.2,207.7L242.9,208.7L244.1,214.5L243.4,214L233,214ZM222.4,272.4L228.5,275.4L234.5,274.4L242.5,275.4L250.6,277.4L256.6,276.4L254.6,272.4L230.5,266.3L224.5,263.3L218.4,264.3L219.4,268.3ZM254.6,290.4L270,292.4L270,284.4L258.6,283.4L250.6,284.4L250.6,287.4ZM224.1,137.8L227.2,136.2L223.1,132.6L218.1,131.2L220.1,135.2ZM248.6,167.9L247.3,167.6L248.8,168.3ZM235.7,174.5L234.1,173.5L233,172L230.2,170.3L222.1,171.3L218.1,174.3L221.1,180.4L227.2,182.4L233.2,181.4L237.2,178.3ZM256.3,187.4L250.2,184.4L242.2,183.4L236.2,185.4L238.2,189.4L242.3,190.8L245.5,193.1L246.3,193.3L252.4,192.7L253.3,192.1L257.3,191.4ZM264.3,192.4L258.3,194.4L259.3,200.4L264.3,204.5L270.3,203.4L272.9,200L272.7,198.3L270.3,194.4ZM225.1,206.5L220.1,202.4L212.1,201.4L206.1,204.5L206.5,207.5L210.1,210.5L216.1,212.9L222.1,211.5ZM281.4,124.9L284.4,124.5L284,121.7L280.8,121.7ZM305.5,130.2L300,133.2L300.4,135.8L303.4,138.2L308.5,140.2L312.1,137.2L310.5,132.2ZM270.3,180.4L267.3,177.3L262.3,176.8L263.3,180L267.3,182ZM304.5,188.4L298.4,190.4L298.4,192.8L301.4,194.4L306.5,195.4L310.5,193.4L309.5,190ZM308.5,198L311.5,200L316.5,200L318.9,196.8L314.5,194L308.5,195.4ZM127.5,85.6L123.8,86.2L123.1,89.4L130.6,98.8L131.2,103.1L133.8,102.5L136.2,97.5L139.4,101.2L142.5,98.8L147.5,98.1L152.5,95.6L141.2,90L136.9,86.9L133.8,81.2L131.9,76.2L128.8,72.5L123.8,67.5L115,66.9L115,82.5L117.8,82.5L120,84.4L122.5,83.1L126.2,82.5L128.8,83.8ZM115,122.5L117.8,122.5L119.4,118.8L121.2,113.8L120.6,109.4L115,108.8ZM445,281.2L442.5,276.2L437.5,273.1L430,270.6L421.2,269.4L418.9,270.1L418.9,271L418.2,272.1L415,274.7L417.5,278.8L422.5,281.9L428.8,284.4L433.5,285.3L435.2,284.5L441.4,282.6L443.3,282.6ZM441.2,297.5L441.2,300L443.8,303.1L448.8,305L451.9,302.5L450.6,297.5L446.2,295ZM475,309.4L480,310L480,301.9L472.5,301.2L473.1,305.6ZM457.5,320L453.3,318.9L455.1,318.8L456.2,318.1L457.4,315.6L457.3,314.3L455.5,311.5L454.1,311L450.3,311.9L449.4,312.8L448.7,315.3L449,316.5L450.9,318.6L451.7,318.9L447.5,320L442.5,318.1L436.2,318.8L431.2,322.5L435,326.9L440,329.4L445,331.2L455,326.2L460,325ZM460,322.5L460.6,326.2L463.1,330L467.5,331.9L470,328.1L468.8,323.8L465,321.2Z"/>
<path fill="#96d2fa" fill-rule="evenodd" d="M197,168.3L195,164.3L190,163.3L190,162.9L186.3,162.4L178.3,163.4L170.2,162L150.2,156L142.1,154.4L138.1,156L139.1,158.4L143.1,160.4L150.2,162.4L158.2,165.4L164.2,168.4L170.2,170.4L178.3,171.4L184.3,168.4L194,171.3ZM323.2,246.2L323.8,247.8L326.4,251.8L326.9,252.2L327.8,252.1L333.2,259.3L338.3,262.3L342.3,261.3L341.7,260.1L340.2,259.6L338.8,258.3L336.4,254.4L332.2,249.3L330.2,244.2L334.3,242.2L340.3,243.2L345.3,241.2L342.3,237.2L336.3,236.2L330.2,234.2L328.2,229.2L327.7,228.8L326.1,225.7L318.7,221.3L313.1,221.9L305.1,219.9L304.5,219.2L300.5,217.6L297.9,218.1L290.1,217.1L288.1,214.1L270,223.2L270,221.2L266.6,221.2L258.6,223.2L260.6,226.2L264.6,227.2L270,227.2L270,228.2L288.1,224.2L296.1,224.2L304.1,225.2L310.2,229.2L308.1,232.2L302.1,230.2L294.1,229.2L288.1,231.2L284.1,234.2L288,236.2L291,236.2L299.9,239.7L306.1,241.2L310.2,240.2L316.2,241.2L321.2,244.2ZM264.6,253.3L268.7,254L268.8,252.2L269.6,250.6L270.4,249.9L272.1,249.4L275.8,249.9L277.7,250.8L278,250.3L274,245.2L270,244.2L270,242.2L264.6,241.2L257.6,242.2L257.6,245.2L259.6,249.3ZM351.3,257.3L347.6,260.6L348.3,263.3L353.5,264.8L356.4,263.3L355.3,259.3ZM341.3,271.9L336.3,273.4L336.3,276.8L340.3,278.8L342.3,278.5L341.2,275ZM332.6,286.8L335.1,286.4L334.7,284L332.2,284.4ZM325.2,287.4L320.2,288.4L322.6,293.4L327.2,294L328.2,290.4ZM349.3,311L354.3,312L362.4,318L368.4,317L371.8,314.3L371.3,310.1L371.5,308L371.2,307.4L370.4,307L367.4,307L366.6,306L365.3,303.1L364.2,302.5L358.2,303.5L357.5,304.3L350.3,302.5L344.3,303.5L344.3,308L346.3,308ZM355.3,237.2L356.4,240.2L358,241.1L366.5,243.1L369.4,240.2L366.4,236.2L360.4,235.2ZM396.2,260L397.5,262.5L401.2,264.4L405.6,265.6L408.1,263.1L406.9,260L405.9,260L405.8,259.4L403.7,258.3L402.1,258.1L400.5,257.3L395.5,258.3L395.8,260ZM370,274.4L372.8,274L372.2,271L369.4,271.4ZM360.8,279.4L362.4,283.4L366.4,285.4L366.8,284.1L368.5,283.8L370.4,282.4L370.4,276.4L366.4,273.4L361.4,275.4ZM134.1,459.1L130.1,455.1L124.1,453.1L118,454.1L118,458.1L121,460.1L124.1,463.1L125.1,468.1L129.1,469.1L133.1,465.1ZM181.3,486.2L177.3,483.2L172.2,484.2L173.2,488.2L178.3,489.2ZM167.2,524.4L176.3,543.5L178.1,545.3L178.3,544.5L184.3,543.5L187.3,546.5L186.3,548.5L187.3,550.5L185.3,560.5L181.8,568L197.2,568L196.3,560.5L198.3,544.5L196.3,538.4L192.3,534.4L189.3,530.4L191.3,524.4L189.3,518.4L192.3,514.3L193.3,509.3L190.3,504.3L185.3,506.3L179.3,503.3L175.3,499.3L170.2,499.3L167.2,502.3L161.2,498.3L157.2,492.2L153.2,488.2L150.2,482.2L146.1,471.2L149.1,470.4L149.1,469.6L151.8,464.3L150.2,462.1L145.1,461.1L140.1,464.1L135.1,469.1L130.1,473.2L128.1,477.2L130.1,483.2L134.1,486.2L132.1,490.2L133.1,494.2L137.1,497.3L136.1,501.3L140.1,503.3L137.1,507.3L140.1,510.3L153.2,508.3L155.2,512.3L156.2,518.4L162.2,520.4ZM182.3,515.3L182.3,512.3L185.3,511.3L187.3,514.3L185.3,516.3ZM245.2,214L248.6,217.1L254.6,218.1L257.6,214.1L256.3,214L257.3,211.5L252.2,207.5L244.2,208.5ZM225.1,177.6L230.2,177.9L233.2,176.8L231.2,174.3L224.1,175.3ZM250.2,188.8L242.6,189.4L246.2,192L252.2,191.4ZM216.1,205.5L217.1,210.1L221.1,209.5L220.1,206.1ZM384.4,276.2L385,278.5L387.5,280L392.5,280.6L395.6,278.8L393.8,276.2L388.8,275ZM436.2,275.6L432.9,274.7L423.8,273.8L420,275.6L420.6,278.1L423.8,280L428.8,281.9L433.8,283.1L438.8,281.2L441.2,278.1ZM405.6,285L403.1,285L403.1,286.9L405.6,286.9ZM448.5,299L444.4,299L444.8,301.9L448.8,301.9ZM427.5,298.8L422.5,296.9L416.3,296.9L411.9,299L405.1,300.2L402.5,301.9L402.8,304.4L405,306.9L410,308.8L417.5,308.1L423.8,305.6L428.1,302.5ZM450,315.6L451.9,317.8L455,317.5L456.2,315L454.4,312.2L450.6,313.1Z"/>
<path fill="#50a0f0" fill-rule="evenodd" d="M177.3,166.8L178.3,164.4L170.2,164.8L173.2,166.4ZM296.1,223.2L302.1,222.6L304.1,220.1L300.1,218.5L294.1,220.1ZM318.2,222.2L311.2,223.2L312.2,227.2L317.2,231.2L323.2,232.2L327.2,230.2L325.2,226.2ZM305.9,234L304.1,232.2L296.1,231.2L290.1,233.2L290.7,235.1L300.3,238.6L303.1,238.6L306.4,237.7L306.4,236.6L307.1,236.2ZM327.2,251.3L329.2,248.3L327.2,242.2L323.2,243.2L324.6,247.2ZM401.9,261.9L404.4,262.5L405,260L403.8,260L403.5,259.3L399.5,258.7L400.2,260L400.6,260ZM359.3,308L360.4,308L361.4,311L364.4,313.6L369.4,312L370.4,308L366.3,308L364.4,303.5L358.4,304.5ZM133.1,478.2L136.1,483.2L142.1,485.2L146.1,484.2L144.1,480.2L138.1,477.2ZM149.2,495.2L151.2,500.3L156.2,504.3L160.2,504.3L158.2,500.3L153.2,496.3ZM178.3,510.3L177.9,504.3L174.3,500.3L170.2,501.3L169.2,505.3L170.2,509.3L174.3,512.3ZM194.3,544.5L193.3,541.4L190.3,540.4L191.3,545.5ZM427.5,276.2L430,278.8L435,280.6L438.8,279.4L437.5,277.5L432.5,275.6ZM418.8,298.1L414.4,300L414.8,302.2L417.5,303.8L422.5,303.5L425.6,301.2L423.8,298.5Z"/>
<path fill="#3232c8" fill-rule="evenodd" d="M296,236.1L300.2,237.8L305.7,237.2L305.1,234.2L300.1,233.2L295.7,234.2ZM138.1,480.2L136.1,479.8L136.1,481.4L137.7,481.8Z"/>
</g>
<g stroke="#b4b4b4" stroke-width="1" stroke-dasharray="2 5" fill="none" shape-rendering="crispEdges">
<line x1="186.5" y1="67" x2="186.5" y2="567"/>
<line x1="256.5" y1="67" x2="256.5" y2="567"/>
<line x1="326.5" y1="67" x2="326.5" y2="567"/>
<line x1="395.5" y1="67" x2="395.5" y2="567"/>
<line x1="465.5" y1="67" x2="465.5" y2="567"/>
<line x1="535.5" y1="67" x2="535.5" y2="567"/>
<line x1="604.5" y1="67" x2="604.5" y2="567"/>
<line x1="674.5" y1="67" x2="674.5" y2="567"/>
<line x1="118" y1="108.5" x2="696" y2="108.5"/>
<line x1="118" y1="150.5" x2="696" y2="150.5"/>
<line x1="118" y1="192.5" x2="696" y2="192.5"/>
<line x1="118" y1="233.5" x2="696" y2="233.5"/>
<line x1="118" y1="275.5" x2="696" y2="275.5"/>
<line x1="118" y1="317.5" x2="696" y2="317.5"/>
<line x1="118" y1="359.5" x2="696" y2="359.5"/>
<line x1="118" y1="401.5" x2="696" y2="401.5"/>
<line x1="118" y1="442.5" x2="696" y2="442.5"/>
<line x1="118" y1="484.5" x2="696" y2="484.5"/>
<line x1="118" y1="526.5" x2="696" y2="526.5"/>
</g>
<rect x="683" y="508" width="13" height="59" fill="#fff" shape-rendering="crispEdges"/>
<polygon points="684,508 696,508 690,540" fill="#f0f0f0"/>
<rect x="117" y="66" width="580" height="502" fill="none" stroke="#000" stroke-width="2" shape-rendering="crispEdges"/>
<g shape-rendering="crispEdges">
<rect x="684" y="126" width="14" height="32" fill="#8c009b"/>
<rect x="684" y="158" width="14" height="32" fill="#c86496"/>
<rect x="684" y="190" width="14" height="32" fill="#cd96cd"/>
<rect x="684" y="222" width="14" height="31" fill="#ff0000"/>
<rect x="684" y="253" width="14" height="32" fill="#ffa000"/>
<rect x="684" y="285" width="14" height="32" fill="#ffff00"/>
<rect x="684" y="317" width="14" height="31" fill="#3232c8"/>
<rect x="684" y="348" width="14" height="32" fill="#50a0f0"/>
<rect x="684" y="380" width="14" height="32" fill="#96d2fa"/>
<rect x="684" y="412" width="14" height="32" fill="#329632"/>
<rect x="684" y="444" width="14" height="31" fill="#64c864"/>
<rect x="684" y="475" width="14" height="32" fill="#96fa96"/>
<polygon points="684,126 696,126 690.5,93" fill="#a0a0a0"/>
<rect x="684" y="125.5" width="14" height="1" fill="#000"/>
<rect x="684" y="157.5" width="14" height="1" fill="#000"/>
<rect x="684" y="189.5" width="14" height="1" fill="#000"/>
<rect x="684" y="221.5" width="14" height="1" fill="#000"/>
<rect x="684" y="252.5" width="14" height="1" fill="#000"/>
<rect x="684" y="284.5" width="14" height="1" fill="#000"/>
<rect x="684" y="316.5" width="14" height="1" fill="#000"/>
<rect x="684" y="347.5" width="14" height="1" fill="#000"/>
<rect x="684" y="379.5" width="14" height="1" fill="#000"/>
<rect x="684" y="411.5" width="14" height="1" fill="#000"/>
<rect x="684" y="443.5" width="14" height="1" fill="#000"/>
<rect x="684" y="474.5" width="14" height="1" fill="#000"/>
<rect x="684" y="506.5" width="14" height="1" fill="#000"/>
<rect x="683" y="126" width="1" height="382" fill="#000"/>
</g>
<path d="M683.5,126 L690,94 M683.5,508 L689.5,538" stroke="#000" stroke-width="1" fill="none"/>
<g clip-path="url(#c)" fill="none" stroke="#000" stroke-linejoin="round" stroke-linecap="round">
<polyline stroke-width="1.8" points="270,95.1 264.6,94.1 259.6,91.1 254.6,88.1 250.6,85.1 247.6,88.1 243.5,91.5 238.5,91.7 232.5,90.1 227.5,88.1 222.4,89.1 218.4,93.1 215.4,99.2 212.4,105.2 208.4,108.2 204.4,107.2 198.4,102.2 192.3,96.1 187.3,90.1 180.3,89.5 174.3,90.5 170.8,96.1 170.2,106.2 169.6,116.2 168.2,122.2 171.2,126.3 176.3,130.3 182.3,131.9 185.3,136.3 188.3,143.3 192.3,148.4 196.3,153.4 198.4,160.4 198.4,168.4 196.3,174.5 202.4,174.9 206.4,177.5 209.4,183.5"/>
<polyline stroke-width="1.8" points="118,67 124.1,69 128.1,72 132.1,71 137.1,67"/>
<polyline stroke-width="1.8" points="270,95.1 276,93.1 282,95.1 289.1,98.2 296.1,98.2 303.1,96.7 309.2,100.2 316.2,103.2 323.2,100.2 330.2,99.2 335.3,100.2 340.3,99.8 343.3,96.1 349.3,97.1 356.3,98.8 364.4,99.8 370.4,101.2 376.4,105.2 380.4,108.2 380,113.2 378.4,114.6 382.4,117.2 388.5,119.6 395.5,119.2 402.5,116.2 408.6,114.2 415.6,114.6 420.6,117.2 422,120.2 419.6,128.3 414.6,137.3 408.6,145.3 404.1,148.4 404.1,155.4 403.5,164.4 408.6,168.4 416.6,171.4 424.6,176.5 430,181.5"/>
<polyline stroke-width="1.8" points="395.5,118.6 398.5,114.2 401.5,107.2 403.5,99.2 405.5,93.1 408.6,90.1 414.6,90.5 422.6,92.5 425,91.1 424.6,88.1 417.6,87.1 410.6,85.1 403.5,82.1 397.5,78.1 394.1,75.1 394.9,70 395.5,67 400.5,67.2"/>
<polyline stroke-width="1.8" points="520.4,67 525.4,70 530.4,76.1 536.4,80.1 544.5,84.1 552.5,87.1 560.5,89.1 566.5,90.1 569.6,94.1 568.6,99.2 564.5,104.2 561.5,107.8 564.5,110.2 570.6,111.8 573,114.6 571.6,118.2 564.5,118.6 560.5,119.8 560.1,123.9 562.5,126.3 569.6,126.9 574.6,128.3 577.6,132.3 579.6,135.3 584.6,136.7 590,135.9"/>
<polyline stroke-width="1.8" points="590,135.9 598,136.7 604.5,138.3 607.1,144.3 610.1,149.4 615.1,151 619.1,148.4 622.1,142.3 626.1,135.9 632.2,132.3 637.2,131.7 642.2,135.3 647.2,138.9 653.3,140.3 657.3,142.7 657.9,145.9 654.3,148 650.2,146.3 646.2,145.3 641.2,148 636.6,152.4 638.2,156.4 641.2,162.4 643.2,165.4 650.2,167.4 652.2,171.4 659.3,175.5 666.3,179.5 672.3,182.9 676.3,182.9"/>
<polyline stroke-width="1.8" points="652.2,172 649.2,176.5 646.2,184.1"/>
<polyline stroke-width="1.8" points="676.7,182.4 676.3,188 670.3,189.6 665.3,194 662.9,200.1 665.3,204.1 672.3,206.5 679.4,207.1 684.4,205.7 690.4,204.1 697.4,203.7"/>
<polyline stroke-width="1.8" points="646.2,184 639.2,187 633.2,192 631.2,199.1 630.2,206.1 632.2,213.1 635.2,221.1 639.2,230.2 643.2,235.2 650.2,239.2 657.3,241.2 661.3,245.2 662.7,250.3 667.3,254.3 673.3,259.3 673.9,264.3 669.3,269.3 664.3,275.4 659.3,281.4 654.3,284 649.2,284.4 643.2,284 638.2,286.4 635.2,290.4 635.2,298.5 636.6,308.1"/>
<polyline stroke-width="1.8" points="636.6,308 640.2,311 643.2,316 642.6,322.1 638.2,327.1 632.2,331.3"/>
<polyline stroke-width="1.8" points="590,334.1 594,331.7 602,331.1 610.1,332.5 616.1,331.7 621.1,329.1 627.1,329.1 632.2,331.7"/>
<polyline stroke-width="1.8" points="632.2,331.7 634.2,338.1 638.2,344.1 645.2,349.2 654.3,353.2 661.3,355.8 664.3,362.2 667.3,370.2 671.3,375.3 675.3,378.3 675.9,382.7 672.3,387.3 670.9,394.3 671.3,404.4 671.9,413.4"/>
<polyline stroke-width="1.8" points="671.9,413.4 678.4,414.4 683.4,414.8 688.4,414 691.4,410.4 694.4,408.4 698.4,408"/>
<polyline stroke-width="1.8" points="671.9,413.4 664.3,413 659.3,414 657.3,417.4 656.3,424.5 654.3,428.5 648.2,430.5 640.2,431.5 633.2,430.9 627.1,428.5 620.1,427.9 614.1,428.5 608.1,430.1 602,431.5 599,432.9"/>
<polyline stroke-width="1.8" points="599,432 597,436 594,442 590,447.1"/>
<polyline stroke-width="1.8" points="534.4,453.1 542.4,453.1 552.5,452.7 559.5,452.1 564.5,449.1 570.6,450.1 576.6,452.7 582.6,450.5 590,447.7"/>
<polyline stroke-width="1.8" points="135.1,184 140.1,189 146.1,196 152.2,201.1 158.2,205.1 164.2,209.1 170.2,212.1 176.3,214.1 181.3,218.1 183.9,221.8 181.3,225.2 181.3,229.2 184.3,232.2 189.3,234.6 195.3,234.2 201.4,231.8 207.4,229.8 213.4,229.2 218.4,229.8 222.4,233.2 228.5,236.2 234.5,239.2 241.5,241.2 247.6,241.8 250.6,244.2 254.6,249.3 259.6,254.3 264.6,258.3 270,261.3"/>
<polyline stroke-width="1.8" points="209.4,184 214.4,187 220.4,191 226.5,196 232.5,203.1 238.5,209.1 244.5,215.1 250.6,221.1 254.6,226.2 259.6,229.8 265.6,232.2 270,233.6"/>
<polyline stroke-width="1.8" points="118,189 122,193 127.1,196 131.7,198.5 132.1,201.1 129.7,202.5 125.1,199.1 121,195 118,192"/>
<polyline stroke-width="1.8" points="216.4,242.2 224.5,242.6 234.5,243.8 242.5,245.2 248.6,247.3 248.2,250.3 244.5,252.3 238.5,253.3 230.5,252.9 223.5,251.9 217.4,250.3 214,247.9 215.4,244.2 216.4,242.2"/>
<polyline stroke-width="1.8" points="214.4,258.7 219.4,257.3 228.5,257.3 238.5,259.3 250.6,261.3 260.6,262.9 264.6,263.9 264.2,265.9 258.6,265.9 248.6,264.7 238.5,263.9 228.5,263.3 220.4,262.3 215.4,260.9 214.4,258.7"/>
<polyline stroke-width="1.8" points="190.3,269.9 194.3,267.9 200.4,267.3 204,268.3 204.4,270.7 201.4,273.4 196.3,274.4 191.3,273.8 189.7,271.8 190.3,269.9"/>
<polyline stroke-width="1.8" points="270,280.8 264.6,280 256.6,278.4 248.6,276.8 238.5,275.4 230.5,276.4 231.5,279.4 234.5,281.4 240.5,282.4 246.5,284 250.6,282.8 254.6,281.4 262.6,281.8 270,282.4"/>
<polyline stroke-width="1.8" points="270,272.4 264.6,271.8 257.6,271.3 257.6,272.8 258.6,274 262.6,275.4 270,275.4"/>
<polyline stroke-width="1.8" points="118,145.1 122,148.1 128.1,154.1 135.1,160.1 142.1,165.1 146.1,167.7 153.2,168 153.2,169.2 146.1,169.7 144.1,168.7 140.1,166.1 137.1,165.6 135.1,167.1 137.1,168.7 137.1,170.2 130.1,169.7 129.6,168.2 132.1,166.1 134.1,164.1 134.1,162.6 130.1,158.1 125.1,153.1 122,150.1 119,148.1 118,146.6"/>
<polyline stroke-width="1.8" points="118,154.1 121,158.1 125.1,163.1 127.6,166.1 130.1,166.6"/>
<polyline stroke-width="1.8" points="126.6,168.2 125.1,169.7 126.1,173.2 130.1,177.2 135.1,183.2 140.1,189.2 143.1,192.8"/>
<polyline stroke-width="1.8" points="270,233.8 273.8,235.6 275,238.8 275,243.8 276.2,248.8 278.8,252.5 283.8,257.5 290,261.9 296.2,265.6 300,269.4 301.2,273.8 300.6,277.5 297.5,278.8 293.8,278.5 290,276.9 288.8,273.8 287.5,270 285,267.5 281.2,264.4 276.2,261.9 270,261"/>
<polyline stroke-width="1.8" points="267.5,271.2 270,272.5 275,275.6 280,278.1 286.2,280 292.5,281.2 297.5,281.9 302.5,285 304.4,281.9 306.2,280.6 310,281.9 313.1,285 316.2,288.8 320,291.2 325,293.8 330,296.2 335,298.8 338.1,301.9 340,305 341.9,307"/>
<polyline stroke-width="1.8" points="267.5,274.4 270,275.6 275,278.8 281.2,282.5 287.5,285.6 295,288.1 302.5,290 310,291.2 315,292.5 320,295 325,298.1 330,301.9 333.8,305 336.2,307"/>
<polyline stroke-width="1.8" points="278.8,291.9 281.2,290.6 286.2,291.9 292.5,293.8 298.8,296.2 305,298.1 308.1,300 307.5,301.2 303.8,300 298.8,298.5 292.5,296.9 286.2,295 281.2,294.4 279.4,293.1 278.8,291.9"/>
<polyline stroke-width="1.8" points="370,270.6 366.2,271.2 362.5,273.1 359.4,276.9 357.5,281.2 356.9,286.2 357.5,291.2 360,296.2 363.8,300 366.2,302.5 366.9,305 365,307"/>
<polyline stroke-width="1.8" points="363.4,273.4 368.4,271.3 370.4,266.3 371.4,258.3 374.4,252.3 380.4,247.3 386.5,244.2 390.5,246.2 392.5,251.3 395.5,254.3 399.5,254.3 401.5,250.3 400.5,244.2 397.5,239.2 393.5,236.2 392.5,233.2 395.5,230.2 402.5,229.8 410.6,231.2 418.6,229.2 425.6,226.2 430,225.2"/>
<polyline stroke-width="1.8" points="430,214.1 428.6,208.1 424.6,202.1 419.6,197.1 414.6,193 412.2,191 414.6,190 422.6,191.6 430,192.4"/>
<polyline stroke-width="1.8" points="410.6,231.4 415.6,237.8 425,242 430,246.7"/>
<polyline stroke-width="1.8" points="430,181.6 436,184 438,187 437.6,191 434,193.6 430,194"/>
<polyline stroke-width="1.8" points="430,212.1 431,218.1 430,226.2"/>
<polyline stroke-width="1.8" points="430,246.7 434,252.3 439,259.3 448.1,261.3 458.1,264.3 464.1,267.3 467.1,272.4 476.2,276.4 484.2,280.4 489.2,284.4 491.2,288.4 485.2,291.4 483.2,294.4 476.2,295.4 469.2,294.4 465.1,297.5 464.5,300.5 468.2,302.5 472.2,304.5 471.2,308.1"/>
<polyline stroke-width="1.2" points="491.2,288.4 496.3,287.4 502.3,285.4 500.3,281.4 503.3,277.4 507.3,274.4 510.3,270.3 513.3,266.3 511.3,262.3 508.3,259.3 508.3,257.3 514.3,255.3 519.4,253.9 522.4,252.3 526.4,255.3 527.4,258.3 524.4,260.3 528.4,262.3 533.4,264.3 536.4,266.3 540.4,264.3 544.5,265.3 546.5,270.3 549.5,273.4 552.5,277.4 553.5,281.4 558.5,283.4 564.5,285.4 564.9,290.4 563.5,295.4 570.6,297.5 578.6,299.5 584.6,300.5 590,299.5"/>
<polyline stroke-width="1.2" points="589,302.5 588.6,308.5"/>
<polyline stroke-width="1.8" points="440,308.1 445.1,303.5 449.1,308.1"/>
<polyline stroke-width="1.8" points="357.5,285 358.1,290 360.6,295 363.8,299.4 366.2,302.5 365.6,305 362.5,307.5 358.8,310 357.5,313.8 358.1,317.5 360,320.6"/>
<polyline stroke-width="1.8" points="343.8,306.9 348.8,307.2 353.1,306.5 356.2,308.8 358.1,310"/>
<polyline stroke-width="1.8" points="330,296.9 335,300 338.8,303.8 342.5,307.5 346.2,311.2 350.6,315.6 355,319.4 360,322.5 362.5,323.8"/>
<polyline stroke-width="1.8" points="330,301.2 335,305 340,310 345,314.4 350,318.8 355,322.5 358.8,325"/>
<polyline stroke-width="1.4" points="363.8,321.2 367.5,320.6 371.2,319.4 373.8,316.9 374.4,318.8 379.4,318.5 379.4,322.5 376.9,321.2 373.8,322.5 372.5,325 368.8,326.2 365.6,325 364.4,322.5 363.8,321.2"/>
<polyline stroke-width="1.4" points="362.5,323.8 366.2,326.9 370,327.5 372.5,326.2"/>
<polyline stroke-width="1.8" points="372.5,326.2 376.2,331.2 380,335 386.2,335.2 388.8,338.1 392.5,341.9 397.5,345 401.2,349.4 403.8,353.1 405.6,357.5 405.6,362"/>
<polyline stroke-width="1.8" points="430,324.4 426.2,328.8 421.9,335 418.1,339.4 415.6,343.1 419.4,346.2 423.1,349.4 422.5,353.8 420.6,358.8 420,362"/>
<polyline stroke-width="1.8" points="400.5,349.2 403.5,353.2 405.5,358.2 406.5,362.2 412.6,365.2 420.6,367.2 430,369.2"/>
<polyline stroke-width="1.8" points="419.6,347.2 422.6,351.2 420.6,358.2 419.6,365.2 421,371.3"/>
<polyline stroke-width="1.8" points="430,402.4 426.6,406.4 426.2,412.4 428.6,417.4 430,420.4"/>
<polyline stroke-width="1.8" points="428.6,426.5 427.6,432.1"/>
<polyline stroke-width="1.8" points="471.2,308 472.2,312 477.2,316 480.2,323.1 482.2,329.1 486.2,331.7 493.3,333.1 499.3,337.1 503.3,343.1 505.9,351.2 507.3,358.2 508.7,362.2 506.3,368.2 503.3,372.3 501.9,380.3 501.3,388.3 499.3,393.3 497.3,397.4 499.3,402.4 503.3,407.4 502.3,411.4 499.9,415.4 500.3,420.4 503.3,426.5 506.3,432.1"/>
<polyline stroke-width="1.8" points="471.2,311 464.1,313 458.1,316 454.1,318 450.1,317 447.7,313 449.1,308"/>
<polyline stroke-width="1.8" points="439,308 437,313 433,319 430,324.1"/>
<polyline stroke-width="1.8" points="506.3,369.2 512.3,370.2 516.3,369.2 519.4,365.2 517.8,360.2 518.4,355.2 521.4,351.2 528.4,349.2 536.4,345.1 542.4,342.1 546.5,343.1 550.5,347.2 550.5,350.6 555.5,350.6 557.5,346.2 560.5,341.1 566.5,337.7 570.6,336.1 574.6,338.1 580.6,337.7 586.6,339.1 590,338.1"/>
<polyline stroke-width="1.2" points="550.5,347.2 556.5,347.2 556.5,351.2 550.5,351.2"/>
<polyline stroke-width="1.2" points="586.6,308 585.6,314 580.6,319 579.6,324.1 574.6,328.1 571.6,331.1 573.6,335.1 574.6,337.7"/>
<polyline stroke-width="1.8" points="430,371.3 436,374.3 437.6,378.3 436,384.3 435.6,390.3 433,395.3 430,399.4"/>
<polyline stroke-width="1.8" points="430,417.4 431.6,420.4 431,426.5 430,427.5"/>
<polyline stroke-width="1.8" points="117.6,359.2 124.1,364.2 133.1,366.2 143.1,367.2 154.2,365.8 166.2,365.2 178.3,364.2 187.3,362.6 192.3,363.8 196.3,367.2 198.4,372.3 199.8,375.3 197.3,379.3 192.3,383.3 186.3,387.3 180.3,389.9 178.7,394.3 179.3,399.4 182.3,403.4 188.3,406.4 198.4,410.4 210.4,416.4 222.4,422.1 234.5,426.5 246.5,430.5 250.6,432.1"/>
<polyline stroke-width="1.8" points="248.6,432 254.6,434 262.6,436.4 270,440"/>
<polyline stroke-width="1.8" points="118,509.3 124.1,510.3 130.1,514.3 136.1,520.4 141.1,524.8 146.1,526.4 150.2,522 155.2,519.3 160.2,520.4 164.2,524.4 168.2,531.4 170.2,539.4 171.2,547.5 173.3,552.5 176.3,558.5 179.3,563.5 181.7,568.5"/>
<polyline stroke-width="1.8" points="270,483.2 262.6,482.2 255.6,485.2 250.6,490.2 245.5,497.3 240.5,503.3 237.5,509.3 232.5,515.3 228.5,520.4 228.9,525.4 226.5,531.4 222.4,538.4 220,544.4 221.4,550.5 224.5,554.5 229.5,557.5 236.5,558.1 241.5,559.5 246.5,563.5 251.6,567.5"/>
<polyline stroke-width="1.8" points="270,440 278,447.1 289.1,457.1 300.1,461.7 312.2,465.7 323.2,469.1 326.2,472.2 327.8,478.2 334.3,483.2 344.3,489.2 352.3,497.3 357.3,505.3 360.8,514.3 358.4,521.4 354.3,527.4 352.3,531.4 352.3,538.4 351.9,542.8 347.3,541.4 339.3,538.4 332.2,534.4 326.2,529.4 325.2,525.4 327.2,520.4 325.2,514.3 322.2,508.3 318.2,502.3 313.2,500.9 300.1,500.3 290.1,500.9 280,496.3 271.6,490.6 278,484.8 270,483.8"/>
<polyline stroke-width="1.8" points="427.6,432 426.2,440 430,442"/>
<polyline stroke-width="1.8" points="430,451.1 424.6,452.1 422.6,460.1 419.6,467.1 417.6,472.2 422.6,476.2 426.6,478.6 427.6,485.2 428.6,492.2 430,496.3 424.6,497.3 421.6,491.2 418.6,488.8 416.2,490.6 418.6,496.3 422.6,502.3 426.6,506.7 430,507.9"/>
<polyline stroke-width="1.8" points="506.3,432 511.3,435 513.3,440 515.3,446.1 517.3,449.7 523.4,450.1 524.4,448.1 530.4,449.1 533.4,451.1 534.4,453.1"/>
<polyline stroke-width="1.8" points="534.4,453.1 535.4,460.1 538,467.1 538.4,474.2 537.4,479.2 533.4,483.2 530.4,486.2 524.4,486.2 520.4,491.2 517.3,498.3 514.3,503.3 513.3,511.3 511.3,518.3 504.3,520 497.3,520.4 491.2,523.4 487.2,526.4 487.8,532.4 492.2,536.4 494.3,541.4 490.2,542.4 486.2,542.4 487.2,547.5 483.2,552.5 479.2,554.5 474.2,554.1 469.2,551.5 464.5,550.5"/>
<polyline stroke-width="1.8" points="430,508.3 436,510.3 443.1,514.3 450.1,518.3 456.1,523.4 460.1,530.4 463.1,537.4 464.1,544.4 464.5,550.5"/>
<polyline stroke-width="1.8" points="430,442 432,444 431.6,450.1 430,451.1"/>
<polyline stroke-width="1.8" points="462.1,546.2 460.1,542.2 455.1,541.2 450.1,543.2 444.1,542.8 440.4,546.2 441,551.2 443.7,555.2 450.1,558.3 453.7,562.3 454.1,567.9"/>
<polyline stroke-width="1.8" points="461.1,547.2 456.1,550.2 454.1,553.2 456.1,556.2 460.1,556.7 460.1,567.9"/>
<polyline stroke-width="1.8" points="476.2,554.2 479.2,560.3 481.6,567.9"/>
<polyline stroke-width="1.8" points="698.4,507.3 690.4,504.3 682.4,501.3 674.3,497.3 667.3,493.2 664.7,489.2 665.3,484.6 669.3,482.2 671.9,479.2 670.7,473.2 667.3,472.2 664.3,475.2 661.3,478.6 654.3,481.2 648.2,484.2 645.8,487.2 647.8,492.2 648.2,498.3 646.2,505.3 643.8,512.3 643.2,518.3 645.2,523.4 649.2,527.4 653.3,529.4 656.3,533.4 660.3,538.4 664.3,544.4 666.3,551.5 667.3,556.5 670.3,562.5 674.3,565.5 677.3,567.9"/>
<polyline stroke-width="1.8" points="630.2,432 647.2,432"/>
</g>
<g stroke="#000" stroke-width="1" shape-rendering="crispEdges">
<line x1="117.5" y1="569" x2="117.5" y2="572"/>
<line x1="186.5" y1="569" x2="186.5" y2="572"/>
<line x1="256.5" y1="569" x2="256.5" y2="572"/>
<line x1="326.5" y1="569" x2="326.5" y2="572"/>
<line x1="395.5" y1="569" x2="395.5" y2="572"/>
<line x1="465.5" y1="569" x2="465.5" y2="572"/>
<line x1="535.5" y1="569" x2="535.5" y2="572"/>
<line x1="604.5" y1="569" x2="604.5" y2="572"/>
<line x1="674.5" y1="569" x2="674.5" y2="572"/>
<line x1="113" y1="66.5" x2="116" y2="66.5"/>
<line x1="113" y1="108.5" x2="116" y2="108.5"/>
<line x1="113" y1="150.5" x2="116" y2="150.5"/>
<line x1="113" y1="192.5" x2="116" y2="192.5"/>
<line x1="113" y1="233.5" x2="116" y2="233.5"/>
<line x1="113" y1="275.5" x2="116" y2="275.5"/>
<line x1="113" y1="317.5" x2="116" y2="317.5"/>
<line x1="113" y1="359.5" x2="116" y2="359.5"/>
<line x1="113" y1="401.5" x2="116" y2="401.5"/>
<line x1="113" y1="442.5" x2="116" y2="442.5"/>
<line x1="113" y1="484.5" x2="116" y2="484.5"/>
<line x1="113" y1="526.5" x2="116" y2="526.5"/>
<line x1="113" y1="568.5" x2="116" y2="568.5"/>
</g>
<g font-size="12" font-weight="700">
<text x="117.5" y="582" text-anchor="middle" textLength="17.3" lengthAdjust="spacingAndGlyphs">15E</text>
<text x="186.5" y="582" text-anchor="middle" textLength="17.3" lengthAdjust="spacingAndGlyphs">16E</text>
<text x="256.5" y="582" text-anchor="middle" textLength="17.3" lengthAdjust="spacingAndGlyphs">17E</text>
<text x="326.5" y="582" text-anchor="middle" textLength="17.3" lengthAdjust="spacingAndGlyphs">18E</text>
<text x="395.5" y="582" text-anchor="middle" textLength="17.3" lengthAdjust="spacingAndGlyphs">19E</text>
<text x="465.5" y="582" text-anchor="middle" textLength="17.3" lengthAdjust="spacingAndGlyphs">20E</text>
<text x="535.5" y="582" text-anchor="middle" textLength="17.3" lengthAdjust="spacingAndGlyphs">21E</text>
<text x="604.5" y="582" text-anchor="middle" textLength="17.3" lengthAdjust="spacingAndGlyphs">22E</text>
<text x="674.5" y="582" text-anchor="middle" textLength="17.3" lengthAdjust="spacingAndGlyphs">23E</text>
<text x="110.3" y="70.9" text-anchor="end" textLength="28.9" lengthAdjust="spacingAndGlyphs">45.5N</text>
<text x="110.3" y="112.9" text-anchor="end" textLength="19.3" lengthAdjust="spacingAndGlyphs">45N</text>
<text x="110.3" y="154.9" text-anchor="end" textLength="28.9" lengthAdjust="spacingAndGlyphs">44.5N</text>
<text x="110.3" y="196.9" text-anchor="end" textLength="19.3" lengthAdjust="spacingAndGlyphs">44N</text>
<text x="110.3" y="237.9" text-anchor="end" textLength="28.9" lengthAdjust="spacingAndGlyphs">43.5N</text>
<text x="110.3" y="279.9" text-anchor="end" textLength="19.3" lengthAdjust="spacingAndGlyphs">43N</text>
<text x="110.3" y="321.9" text-anchor="end" textLength="28.9" lengthAdjust="spacingAndGlyphs">42.5N</text>
<text x="110.3" y="363.9" text-anchor="end" textLength="19.3" lengthAdjust="spacingAndGlyphs">42N</text>
<text x="110.3" y="405.9" text-anchor="end" textLength="28.9" lengthAdjust="spacingAndGlyphs">41.5N</text>
<text x="110.3" y="446.9" text-anchor="end" textLength="19.3" lengthAdjust="spacingAndGlyphs">41N</text>
<text x="110.3" y="488.9" text-anchor="end" textLength="28.9" lengthAdjust="spacingAndGlyphs">40.5N</text>
<text x="110.3" y="530.9" text-anchor="end" textLength="19.3" lengthAdjust="spacingAndGlyphs">40N</text>
<text x="110.3" y="572.9" text-anchor="end" textLength="28.9" lengthAdjust="spacingAndGlyphs">39.5N</text>
</g>
<g font-size="11.6" stroke="#000" stroke-width="0.35">
<text x="702.6" y="130.8" textLength="20.6" lengthAdjust="spacingAndGlyphs">100</text>
<text x="702.6" y="162.52" textLength="13.2" lengthAdjust="spacingAndGlyphs">75</text>
<text x="702.6" y="194.24" textLength="13.2" lengthAdjust="spacingAndGlyphs">50</text>
<text x="702.6" y="225.96" textLength="13.2" lengthAdjust="spacingAndGlyphs">40</text>
<text x="702.6" y="257.68" textLength="13.2" lengthAdjust="spacingAndGlyphs">30</text>
<text x="702.6" y="289.4" textLength="13.2" lengthAdjust="spacingAndGlyphs">25</text>
<text x="702.6" y="321.12" textLength="13.2" lengthAdjust="spacingAndGlyphs">20</text>
<text x="702.6" y="352.84" textLength="13.2" lengthAdjust="spacingAndGlyphs">15</text>
<text x="702.6" y="384.56" textLength="13.2" lengthAdjust="spacingAndGlyphs">10</text>
<text x="702.6" y="416.28" textLength="6.2" lengthAdjust="spacingAndGlyphs">5</text>
<text x="702.6" y="448" textLength="6.2" lengthAdjust="spacingAndGlyphs">2</text>
<text x="702.6" y="479.72" textLength="6.2" lengthAdjust="spacingAndGlyphs">1</text>
<text x="702.6" y="511.44" textLength="18.5" lengthAdjust="spacingAndGlyphs">0.2</text>
</g>
<text transform="translate(28.3,20.8) scale(1.38,1)" font-size="10.8" textLength="148.333" lengthAdjust="spacing">wrf-nmmE_v3.9.1-e3km</text>
<text transform="translate(65.4,42.4) scale(1.1,1)" font-size="14.3" textLength="27.8182" lengthAdjust="spacing" stroke="#fff" stroke-width="0.15">3-h</text>
<text transform="translate(107,42.4) scale(1.1,1)" font-size="14.3" textLength="68.4545" lengthAdjust="spacing" stroke="#fff" stroke-width="0.15">Acc.Prec.</text>
<text transform="translate(426.3,20.8) scale(1.1,1)" font-size="13.8" textLength="90.4545" lengthAdjust="spacing" stroke="#fff" stroke-width="0.15">initialisation:</text>
<text transform="translate(538.1,20.8) scale(1.1,1)" font-size="13.8" textLength="87.0909" lengthAdjust="spacing" stroke="#fff" stroke-width="0.15">2021.01.27.</text>
<text transform="translate(656.4,20.8) scale(1.1,1)" font-size="13.8" textLength="38.7273" lengthAdjust="spacing" stroke="#fff" stroke-width="0.15">12:00</text>
<text transform="translate(710.4,20.8) scale(0.96,1)" font-size="13.8" textLength="29.2708" lengthAdjust="spacing" stroke="#fff" stroke-width="0.15">UTC</text>
<text transform="translate(435.8,42.7) scale(1.1,1)" font-size="13.8" textLength="87.9091" lengthAdjust="spacing" stroke="#fff" stroke-width="0.15">valid(+86h):</text>
<text transform="translate(546,42.7) scale(1.1,1)" font-size="13.8" textLength="89.5455" lengthAdjust="spacing" stroke="#fff" stroke-width="0.15">2021.JAN.31</text>
<text transform="translate(657.5,42.7) scale(1.1,1)" font-size="13.8" textLength="39.9091" lengthAdjust="spacing" stroke="#fff" stroke-width="0.15">02:00</text>
<text transform="translate(713.3,42.7) scale(0.98,1)" font-size="13.8" textLength="29.898" lengthAdjust="spacing" stroke="#fff" stroke-width="0.15">UTC</text>
<text x="4" y="615.3" font-size="9.3" textLength="29.8" lengthAdjust="spacingAndGlyphs" font-weight="700">GrADS:</text>
<text x="40.5" y="615.3" font-size="9.3" textLength="49.5" lengthAdjust="spacingAndGlyphs" font-weight="700">COLA/IGES</text>
<text x="684.1" y="615.8" font-size="9.8" textLength="92.3" lengthAdjust="spacingAndGlyphs" font-weight="700">2021-01-27-22:21</text>
</svg></body></html>
